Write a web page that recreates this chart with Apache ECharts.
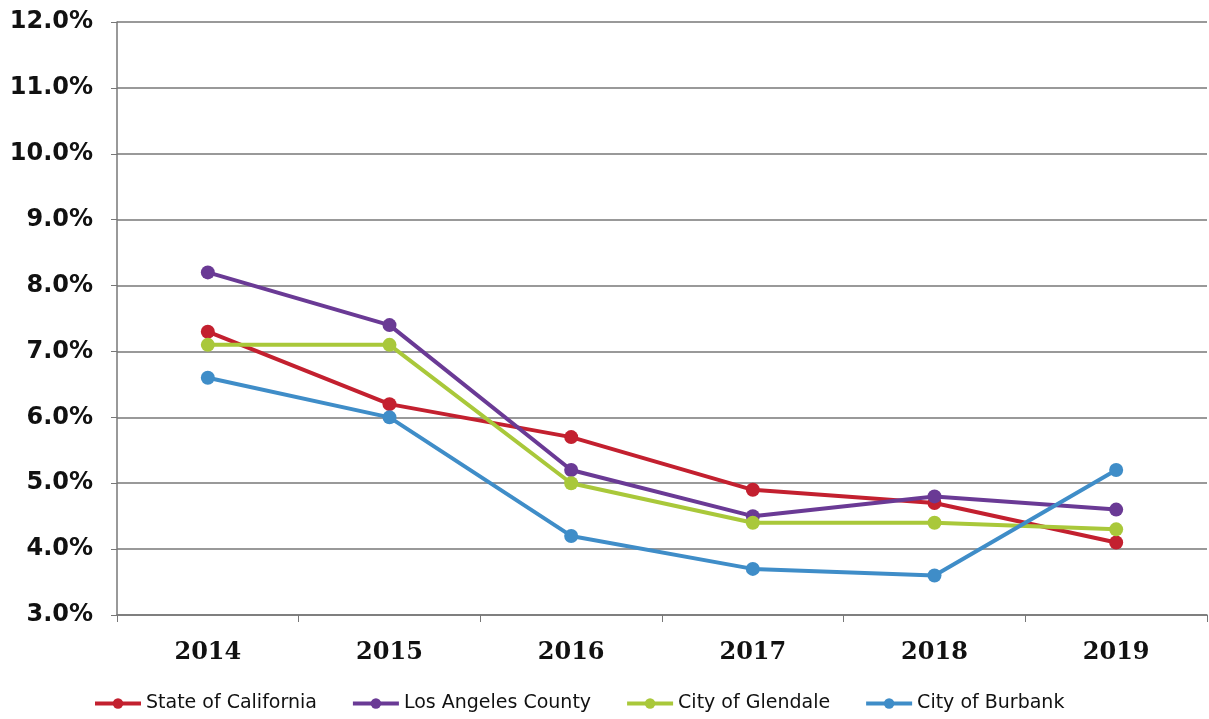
<!DOCTYPE html>
<html>
<head>
<meta charset="utf-8">
<script src="https://cdn.jsdelivr.net/npm/echarts@6/dist/echarts.min.js"></script>
<style>
  html, body { margin: 0; padding: 0; background: #fff; }
  #chart { width: 1209px; height: 719px; }
</style>
</head>
<body>
<div id="chart"></div>
<script>
var years = ["2014", "2015", "2016", "2017", "2018", "2019"];
var california = [7.3, 6.2, 5.7, 4.9, 4.7, 4.1];
var losAngeles = [8.2, 7.4, 5.2, 4.5, 4.8, 4.6];
var glendale = [7.1, 7.1, 5.0, 4.4, 4.4, 4.3];
var burbank = [6.6, 6.0, 4.2, 3.7, 3.6, 5.2];

var chartDom = document.getElementById("chart");
var myChart = echarts.init(chartDom);
var option;

function mkSeries(name, data, color) {
  return {
    name: name,
    type: "line",
    data: data,
    symbol: "circle",
    symbolSize: 14,
    lineStyle: { width: 4, color: color },
    itemStyle: { color: color },
    emphasis: { disabled: true }
  };
}

option = {
  animation: false,
  backgroundColor: "#fff",
  grid: { left: 117, right: 2, top: 22, bottom: 104 },
  legend: {
    bottom: 1,
    left: 88,
    itemWidth: 46,
    itemHeight: 13,
    itemGap: 34,
    lineStyle: { width: 4 },
    textStyle: { fontFamily: "DejaVu Sans", fontSize: 19, color: "#111" },
    data: ["State of California", "Los Angeles County", "City of Glendale", "City of Burbank"]
  },
  xAxis: {
    type: "category",
    data: years,
    boundaryGap: true,
    axisLine: { lineStyle: { color: "#777", width: 1.5 } },
    axisTick: { show: true, length: 7, lineStyle: { color: "#777" } },
    axisLabel: {
      margin: 26,
      fontFamily: "DejaVu Serif",
      fontWeight: "bold",
      fontSize: 24,
      color: "#111"
    }
  },
  yAxis: {
    type: "value",
    min: 3,
    max: 12,
    interval: 1,
    axisLine: { show: true, lineStyle: { color: "#777", width: 1.5 } },
    axisTick: { show: true, length: 6, lineStyle: { color: "#777" } },
    splitLine: { lineStyle: { color: "#777", width: 1.5 } },
    axisLabel: {
      margin: 24,
      fontFamily: "DejaVu Sans",
      fontWeight: "bold",
      fontSize: 24,
      color: "#111",
      formatter: function (v) { return v.toFixed(1) + "%"; }
    }
  },
  series: [
    mkSeries("State of California", california, "#c3202f"),
    mkSeries("Los Angeles County", losAngeles, "#6a3a95"),
    mkSeries("City of Glendale", glendale, "#a9c83a"),
    mkSeries("City of Burbank", burbank, "#3f8dc8")
  ]
};

option && myChart.setOption(option);
</script>
</body>
</html>
